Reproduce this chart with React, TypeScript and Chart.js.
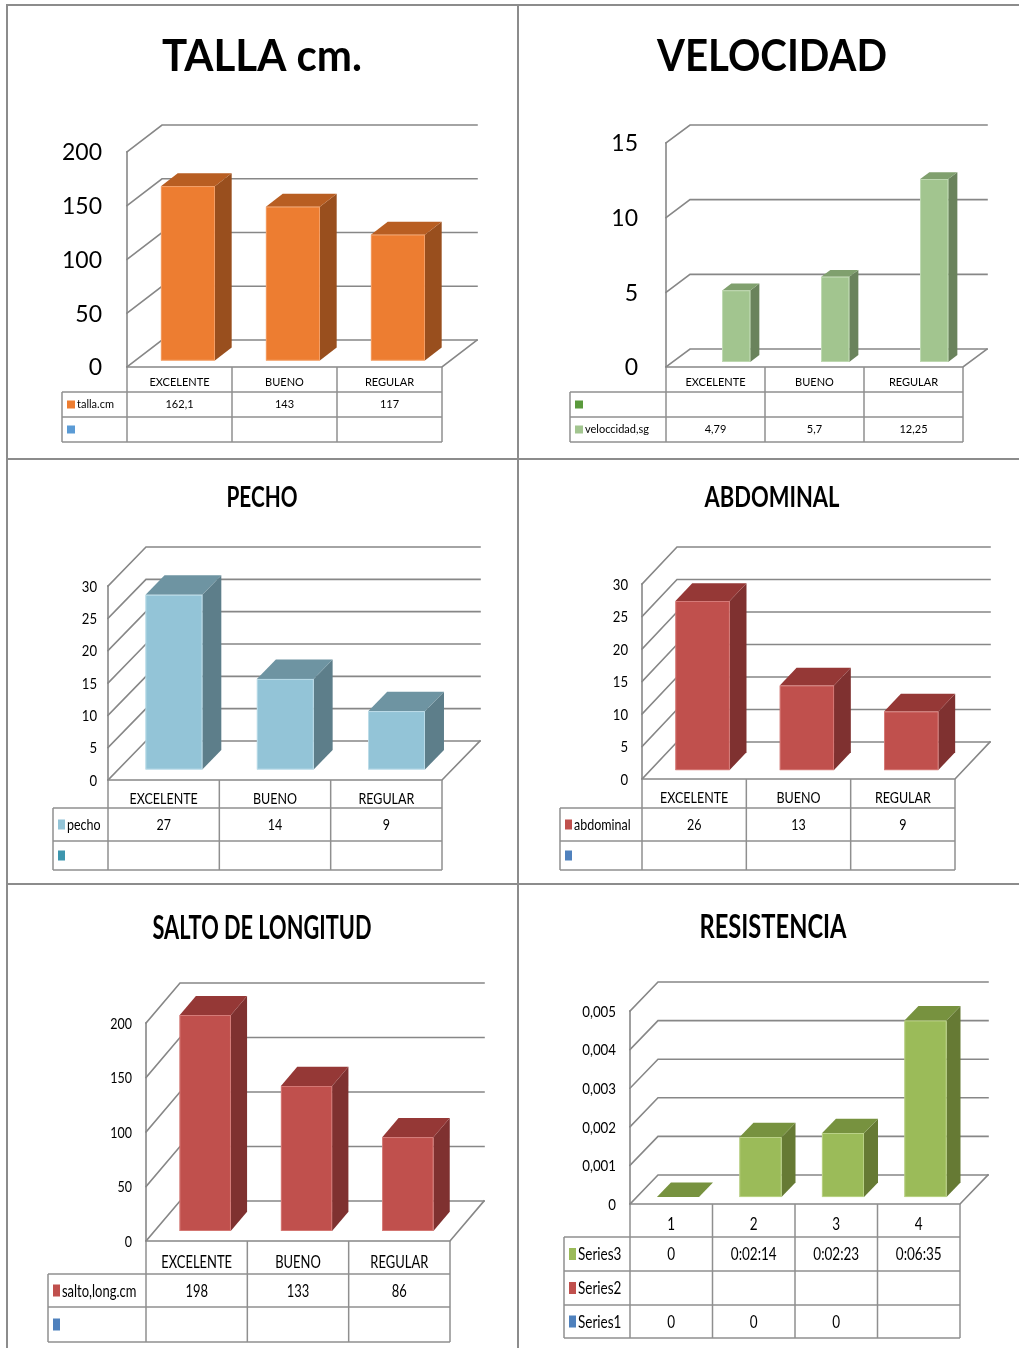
import React, { useEffect, useRef } from "react";
import { Chart, registerables } from "chart.js";

Chart.register(...registerables);

// ---------- data ----------
const tallaCategories = ["EXCELENTE", "BUENO", "REGULAR"];
const tallaValues = [162.1, 143, 117];

const velocidadCategories = ["EXCELENTE", "BUENO", "REGULAR"];
const velocidadValues = [4.79, 5.7, 12.25];

const pechoCategories = ["EXCELENTE", "BUENO", "REGULAR"];
const pechoValues = [27, 14, 9];

const abdominalCategories = ["EXCELENTE", "BUENO", "REGULAR"];
const abdominalValues = [26, 13, 9];

const saltoCategories = ["EXCELENTE", "BUENO", "REGULAR"];
const saltoValues = [198, 133, 86];

const resistenciaCategories = ["1", "2", "3", "4"];
const resistenciaSeries3 = ["0", "0:02:14", "0:02:23", "0:06:35"];
const resistenciaSeries2 = ["", "", "", ""];
const resistenciaSeries1 = ["0", "0", "0", ""];

// time of day (h:mm:ss) as a fraction of a day, the way the spreadsheet stores it
const toDayFraction = (s: string) => {
  if (!s.includes(":")) return Number(s);
  const [h, m, sec] = s.split(":").map(Number);
  return (h * 3600 + m * 60 + sec) / 86400;
};
const resistenciaValues = resistenciaSeries3.map(toDayFraction);

const fmt = (v: number) => String(Number(v.toFixed(6))).replace(".", ",");
const blanks = (n: number) => Array.from({ length: n }, () => "");

// ---------- styles ----------
type Faces = { front: string; top: string; side: string; edge: string };
const ORANGE: Faces = { front: "#ED7D31", top: "#B85E22", side: "#994F1E", edge: "#F4A46E" };
const SOFT_GREEN: Faces = { front: "#A2C58F", top: "#80A06E", side: "#6A835C", edge: "#C4DDB8" };
const SKY: Faces = { front: "#93C4D7", top: "#6E94A2", side: "#5D7E8A", edge: "#C2E0EB" };
const BRICK: Faces = { front: "#C0504D", top: "#953836", side: "#7F3130", edge: "#D9817E" };
const OLIVE: Faces = { front: "#9BBB59", top: "#77923F", side: "#667A34", edge: "#C0D68F" };

const PAGE_W = 1019;
const PAGE_H = 1348;
const FONT = "Lato";
const WALL = "#878787";
const TABLE_LINE = "#8f8f8f";

type BarSet = { values: (number | null)[]; faces: Faces | null };
type Row = { name: string; color: string; cells: string[] };
type Panel = {
  title: string; titleX: number; titleY: number; titleSize: number; titleWidth: number;
  L: number; R: number; T: number; B: number; DX: number; DY: number;
  yMax: number; yStep: number;
  categories: string[];
  sets: BarSet[]; catPct: number; barPct: number;
  z0: number; depth: number;
  tickSize: number; tickSq: number; tickGap: number;
  tableLeft: number; tableY: number[];
  tableSize: number; tableSq: number; headerShift: number;
  box: [number, number];
  rows: Row[];
};

const panels: Panel[] = [
  {
    title: "TALLA cm.", titleX: 262, titleY: 71, titleSize: 43, titleWidth: 200,
    L: 127, R: 442, T: 152, B: 367, DX: 35, DY: 27,
    yMax: 200, yStep: 50,
    categories: tallaCategories,
    sets: [{ values: tallaValues, faces: ORANGE }], catPct: 1, barPct: 0.514,
    z0: 0.24, depth: 0.48,
    tickSize: 23, tickSq: 1, tickGap: 25,
    tableLeft: 62, tableY: [392, 417, 442], tableSize: 11, tableSq: 1, headerShift: 3,
    box: [8, 8],
    rows: [
      { name: "talla.cm", color: "#ED7D31", cells: tallaValues.map(fmt) },
      { name: "", color: "#5B9BD5", cells: blanks(3) },
    ],
  },
  {
    title: "VELOCIDAD", titleX: 772, titleY: 71, titleSize: 43, titleWidth: 230,
    L: 666, R: 963, T: 143, B: 367, DX: 24, DY: 18,
    yMax: 15, yStep: 5,
    categories: velocidadCategories,
    sets: [
      { values: [null, null, null], faces: null },
      { values: velocidadValues, faces: SOFT_GREEN },
    ],
    catPct: 0.566, barPct: 1,
    z0: 0.28, depth: 0.38,
    tickSize: 23, tickSq: 1, tickGap: 28,
    tableLeft: 570, tableY: [392, 417, 442], tableSize: 11, tableSq: 1, headerShift: 3,
    box: [8, 8],
    rows: [
      { name: "", color: "#5A9A3C", cells: blanks(3) },
      { name: "veloccidad,sg", color: "#A2C58F", cells: velocidadValues.map(fmt) },
    ],
  },
  {
    title: "PECHO", titleX: 262, titleY: 507, titleSize: 28, titleWidth: 71,
    L: 108, R: 442, T: 586, B: 780, DX: 38, DY: 39,
    yMax: 30, yStep: 5,
    categories: pechoCategories,
    sets: [{ values: pechoValues, faces: SKY }], catPct: 1, barPct: 0.51,
    z0: 0.27, depth: 0.5,
    tickSize: 16, tickSq: 0.82, tickGap: 11,
    tableLeft: 53, tableY: [808, 841, 870], tableSize: 16, tableSq: 0.78, headerShift: 4,
    box: [7, 10],
    rows: [
      { name: "pecho", color: "#93C4D7", cells: pechoValues.map(fmt) },
      { name: "", color: "#3D96AE", cells: blanks(3) },
    ],
  },
  {
    title: "ABDOMINAL", titleX: 772, titleY: 507, titleSize: 28, titleWidth: 135,
    L: 642, R: 955, T: 584, B: 779, DX: 35, DY: 37,
    yMax: 30, yStep: 5,
    categories: abdominalCategories,
    sets: [{ values: abdominalValues, faces: BRICK }], catPct: 1, barPct: 0.52,
    z0: 0.24, depth: 0.48,
    tickSize: 16, tickSq: 0.82, tickGap: 14,
    tableLeft: 560, tableY: [808, 841, 870], tableSize: 16, tableSq: 0.78, headerShift: 4,
    box: [7, 10],
    rows: [
      { name: "abdominal", color: "#C0504D", cells: abdominalValues.map(fmt) },
      { name: "", color: "#4F81BD", cells: blanks(3) },
    ],
  },
  {
    title: "SALTO DE LONGITUD", titleX: 262, titleY: 939, titleSize: 33, titleWidth: 219,
    L: 146, R: 450, T: 1023, B: 1241, DX: 34, DY: 40,
    yMax: 200, yStep: 50,
    categories: saltoCategories,
    sets: [{ values: saltoValues, faces: BRICK }], catPct: 1, barPct: 0.505,
    z0: 0.25, depth: 0.48,
    tickSize: 16, tickSq: 0.78, tickGap: 14,
    tableLeft: 48, tableY: [1274, 1307, 1342], tableSize: 18, tableSq: 0.72, headerShift: 4,
    box: [7, 12],
    rows: [
      { name: "salto,long.cm", color: "#C0504D", cells: saltoValues.map(fmt) },
      { name: "", color: "#4F81BD", cells: blanks(3) },
    ],
  },
  {
    title: "RESISTENCIA", titleX: 773, titleY: 938, titleSize: 33, titleWidth: 147,
    L: 630, R: 960, T: 1011, B: 1204, DX: 28, DY: 29,
    yMax: 0.005, yStep: 0.001,
    categories: resistenciaCategories,
    sets: [{ values: resistenciaValues, faces: OLIVE }], catPct: 1, barPct: 0.51,
    z0: 0.24, depth: 0.5,
    tickSize: 16, tickSq: 0.83, tickGap: 14,
    tableLeft: 564, tableY: [1237, 1271, 1305, 1338], tableSize: 18, tableSq: 0.75, headerShift: 3,
    box: [7, 12],
    rows: [
      { name: "Series3", color: "#9BBB59", cells: resistenciaSeries3 },
      { name: "Series2", color: "#C0504D", cells: resistenciaSeries2 },
      { name: "Series1", color: "#4F81BD", cells: resistenciaSeries1 },
    ],
  },
];

// ---------- drawing helpers ----------
function drawText(
  ctx: CanvasRenderingContext2D, s: string, x: number, yMid: number,
  size: number, weight: string, sq: number, align: "left" | "center" | "right",
) {
  if (!s) return;
  ctx.save();
  ctx.font = `${weight} ${size}px ${FONT}`;
  ctx.fillStyle = "#000";
  ctx.textAlign = "left";
  ctx.textBaseline = "alphabetic";
  const w = ctx.measureText(s).width * sq;
  const x0 = align === "center" ? x - w / 2 : align === "right" ? x - w : x;
  ctx.translate(x0, yMid + size * 0.36);
  ctx.scale(sq, 1);
  ctx.fillText(s, 0, 0);
  ctx.restore();
}

function line(ctx: CanvasRenderingContext2D, pts: number[][]) {
  ctx.beginPath();
  ctx.moveTo(pts[0][0], pts[0][1]);
  for (let i = 1; i < pts.length; i++) ctx.lineTo(pts[i][0], pts[i][1]);
  ctx.stroke();
}

function fillPoly(ctx: CanvasRenderingContext2D, pts: number[][], color: string) {
  ctx.beginPath();
  ctx.moveTo(pts[0][0], pts[0][1]);
  for (let i = 1; i < pts.length; i++) ctx.lineTo(pts[i][0], pts[i][1]);
  ctx.closePath();
  ctx.fillStyle = color;
  ctx.fill();
}

function tickValues(chart: Chart, p: Panel): number[] {
  const y: any = chart.scales.y;
  if (y.ticks && y.ticks.length) return y.ticks.map((t: any) => t.value);
  const out: number[] = [];
  for (let v = 0; v <= p.yMax + 1e-12; v += p.yStep) out.push(v);
  return out;
}

function boxPlugin(p: Panel) {
  return {
    id: "box3d",
    beforeDatasetsDraw(chart: Chart) {
      const ctx = chart.ctx;
      const y = chart.scales.y;
      const { L, R, B, DX, DY } = p;
      const top = y.getPixelForValue(p.yMax);
      ctx.save();
      ctx.strokeStyle = WALL;
      ctx.lineWidth = 1.6;
      ctx.lineCap = "square";
      // side wall front edge
      line(ctx, [[L, top], [L, B]]);
      // gridlines running over the side wall and the back wall
      tickValues(chart, p).forEach((v) => {
        const py = y.getPixelForValue(v);
        line(ctx, [[L, py], [L + DX, py - DY], [R + DX, py - DY]]);
      });
      // floor edges
      line(ctx, [[L, B], [R, B], [R + DX, B - DY]]);
      ctx.restore();
    },
    afterDatasetsDraw(chart: Chart) {
      const ctx = chart.ctx;
      const ox = p.z0 * p.DX, oy = p.z0 * p.DY;
      const dx = p.depth * p.DX, dy = p.depth * p.DY;
      ctx.save();
      p.sets.forEach((set, di) => {
        if (!set.faces) return;
        const f = set.faces;
        const meta = chart.getDatasetMeta(di);
        meta.data.forEach((el: any, i: number) => {
          if (set.values[i] == null) return;
          const { x, y, base, width } = el.getProps(["x", "y", "base", "width"], true);
          const l = x - width / 2 + ox, r = x + width / 2 + ox;
          const t = y - oy, b = base - oy;
          fillPoly(ctx, [[r, t], [r + dx, t - dy], [r + dx, b - dy], [r, b]], f.side);
          fillPoly(ctx, [[l, t], [l + dx, t - dy], [r + dx, t - dy], [r, t]], f.top);
          if (b - t > 0.5) {
            ctx.fillStyle = f.front;
            ctx.fillRect(l, t, r - l, b - t);
            ctx.strokeStyle = f.edge;
            ctx.lineWidth = 0.8;
            ctx.strokeRect(l + 0.4, t + 0.4, r - l - 0.8, b - t - 0.8);
          }
        });
      });
      ctx.restore();
    },
    afterDraw(chart: Chart) {
      const ctx = chart.ctx;
      const y = chart.scales.y;
      const x = chart.scales.x;

      // title
      ctx.save();
      ctx.font = `bold ${p.titleSize}px ${FONT}`;
      const tw = ctx.measureText(p.title).width;
      const tsq = p.titleWidth / tw;
      ctx.fillStyle = "#000";
      ctx.textBaseline = "alphabetic";
      ctx.translate(p.titleX - p.titleWidth / 2, p.titleY);
      ctx.scale(tsq, 1);
      ctx.fillText(p.title, 0, 0);
      ctx.restore();

      // value axis labels
      tickValues(chart, p).forEach((v) => {
        drawText(ctx, fmt(v), p.L - p.tickGap, y.getPixelForValue(v), p.tickSize, "normal", p.tickSq, "right");
      });

      // data table
      const n = p.categories.length;
      const colW = x.width / n;
      const colX = (i: number) => x.left + i * colW;
      const rowsY = [p.B, ...p.tableY];
      const last = rowsY[rowsY.length - 1];
      ctx.save();
      ctx.strokeStyle = TABLE_LINE;
      ctx.lineWidth = 1.5;
      for (let i = 0; i <= n; i++) line(ctx, [[colX(i), p.B], [colX(i), last]]);
      line(ctx, [[p.tableLeft, rowsY[1]], [p.tableLeft, last]]);
      for (let k = 1; k < rowsY.length; k++) line(ctx, [[p.tableLeft, rowsY[k]], [colX(n), rowsY[k]]]);
      ctx.restore();

      p.categories.forEach((c, i) => {
        drawText(ctx, c, colX(i) + colW / 2, (rowsY[0] + rowsY[1]) / 2 + p.headerShift,
          p.tableSize, "normal", p.tableSq, "center");
      });
      p.rows.forEach((row, r) => {
        const cy = (rowsY[r + 1] + rowsY[r + 2]) / 2;
        const [bw, bh] = p.box;
        ctx.fillStyle = row.color;
        ctx.fillRect(p.tableLeft + 5, cy - bh / 2, bw, bh);
        drawText(ctx, row.name, p.tableLeft + 5 + bw + 2, cy, p.tableSize, "normal", p.tableSq, "left");
        row.cells.forEach((s, i) => {
          drawText(ctx, s, colX(i) + colW / 2, cy, p.tableSize, "normal", p.tableSq, "center");
        });
      });
    },
  };
}

function makeConfig(p: Panel): any {
  return {
    type: "bar",
    data: {
      labels: p.categories,
      datasets: p.sets.map((s, i) => ({
        label: `s${i}`,
        data: s.values,
        backgroundColor: "rgba(0,0,0,0)",
        borderWidth: 0,
        categoryPercentage: p.catPct,
        barPercentage: p.barPct,
      })),
    },
    options: {
      responsive: false,
      animation: false,
      events: [],
      layout: {
        padding: { left: p.L, right: PAGE_W - p.R, top: p.T, bottom: PAGE_H - p.B },
      },
      plugins: {
        legend: { display: false },
        title: { display: false },
        tooltip: { enabled: false },
      },
      scales: {
        x: { display: false, offset: true },
        y: { display: false, min: 0, max: p.yMax, ticks: { stepSize: p.yStep } },
      },
    },
    plugins: [boxPlugin(p)],
  };
}

function PanelChart({ p }: { p: Panel }) {
  const ref = useRef<HTMLCanvasElement>(null);
  useEffect(() => {
    let chart: Chart | null = null;
    let dead = false;
    const build = () => {
      if (dead || !ref.current) return;
      chart = new Chart(ref.current, makeConfig(p));
    };
    const fonts = (document as any).fonts;
    if (fonts && fonts.load) {
      Promise.all([fonts.load(`bold 40px ${FONT}`), fonts.load(`16px ${FONT}`)]).then(build, build);
    } else {
      build();
    }
    return () => {
      dead = true;
      if (chart) chart.destroy();
    };
  }, [p]);
  return (
    <canvas
      ref={ref}
      width={PAGE_W}
      height={PAGE_H}
      style={{ position: "absolute", left: 0, top: 0, width: PAGE_W, height: PAGE_H }}
    />
  );
}

const rule = (left: number, top: number, width: number, height: number) => (
  <div style={{ position: "absolute", left, top, width, height, background: "#8c8c8c" }} />
);

export default function App() {
  return (
    <div style={{ position: "absolute", left: 0, top: 0, width: PAGE_W, height: PAGE_H, background: "#fff", overflow: "hidden" }}>
      {rule(6, 4, PAGE_W - 6, 2)}
      {rule(6, 4, 2, PAGE_H - 4)}
      {rule(517, 4, 2, PAGE_H - 4)}
      {rule(6, 458, PAGE_W - 6, 2)}
      {rule(6, 883, PAGE_W - 6, 2)}
      {panels.map((p) => (
        <PanelChart key={p.title} p={p} />
      ))}
    </div>
  );
}
